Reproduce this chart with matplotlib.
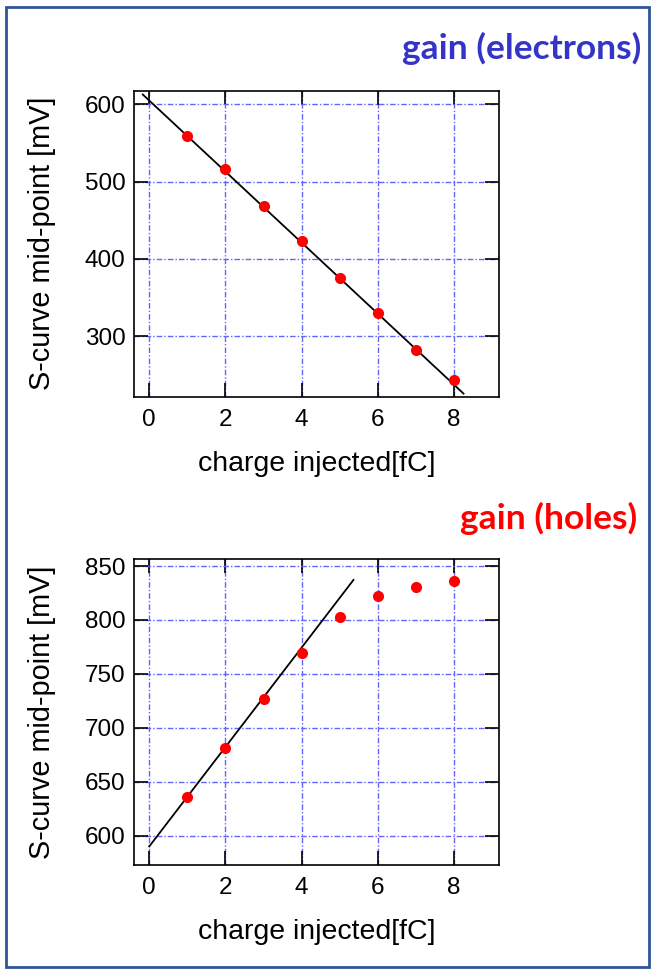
import matplotlib
matplotlib.use("Agg")
import matplotlib.pyplot as plt
from matplotlib.patches import Rectangle
import numpy as np

# ---- data ----
charge_fC = [1, 2, 3, 4, 5, 6, 7, 8]
midpoint_electrons = [559, 516, 469, 423, 375, 330, 282, 243]
midpoint_holes = [636, 681.5, 726.5, 769.5, 802.5, 822, 831, 836]

fit_electrons = (-46.0, 605.0)        # slope, intercept
fit_electrons_range = [-0.17, 8.25]
fit_holes = (46.1, 590.0)
fit_holes_range = [0.0, 5.36]

xticks = [0, 2, 4, 6, 8]
yticks_electrons = [300, 400, 500, 600]
yticks_holes = [600, 650, 700, 750, 800, 850]

title_electrons = "gain (electrons)"
title_holes = "gain (holes)"
xlabel = "charge injected[fC]"
ylabel = "S-curve mid-point [mV]"

plt.rcParams['font.family'] = ['Liberation Sans', 'DejaVu Sans']

fig = plt.figure(figsize=(6.54, 9.73), dpi=100)
fig.patch.set_facecolor('white')

W, H = 654, 973
def ax_rect(l, r, t, b):
    return [l / W, 1 - b / H, (r - l) / W, (b - t) / H]

ax1 = fig.add_axes(ax_rect(134, 499, 90.5, 396.7))
ax2 = fig.add_axes(ax_rect(134, 499, 559, 865))

def style(ax, yticks, ylim):
    ax.set_xlim(-0.40, 9.18)
    ax.set_ylim(*ylim)
    ax.set_xticks(xticks)
    ax.set_yticks(yticks)
    ax.grid(True, color='#6464FF', linestyle=(0, (4, 1.5, 1, 1.5)), linewidth=1.0)
    ax.set_axisbelow(True)
    ax.tick_params(direction='in', top=True, right=True, length=10, width=1.2,
                   labelsize=17.5, colors='black')
    ax.tick_params(axis='x', pad=9)
    ax.tick_params(axis='y', pad=6)
    for s in ax.spines.values():
        s.set_linewidth(1.2)
    ax.set_xlabel(xlabel, fontsize=20.5, labelpad=14)
    ax.set_ylabel(ylabel, fontsize=20.8, labelpad=21)

# electrons
style(ax1, yticks_electrons, (221.5, 618))
xs = np.array(fit_electrons_range)
ax1.plot(xs, fit_electrons[0] * xs + fit_electrons[1], color='black', lw=1.3, zorder=3)
ax1.plot(charge_fC, midpoint_electrons, 'o', color='red', markersize=7, zorder=4)

# holes
style(ax2, yticks_holes, (572.8, 856.5))
xs = np.array(fit_holes_range)
ax2.plot(xs, fit_holes[0] * xs + fit_holes[1], color='black', lw=1.3, zorder=3)
ax2.plot(charge_fC, midpoint_holes, 'o', color='red', markersize=7, zorder=4)

fig.text(641 / W, 1 - 48 / H, title_electrons, color='#3434C8', fontsize=25.5,
         fontweight='bold', family='Lato', ha='right', va='center')
fig.text(637 / W, 1 - 518 / H, title_holes, color='#FF0000', fontsize=25.5,
         fontweight='bold', family='Lato', ha='right', va='center')

fig.patches.append(Rectangle((6 / W, 1 - 967 / H), (649 - 6) / W, (967 - 7) / H,
                             transform=fig.transFigure, fill=False,
                             edgecolor='#2F5597', linewidth=2, zorder=10))

fig.savefig('out.png', dpi=100)
